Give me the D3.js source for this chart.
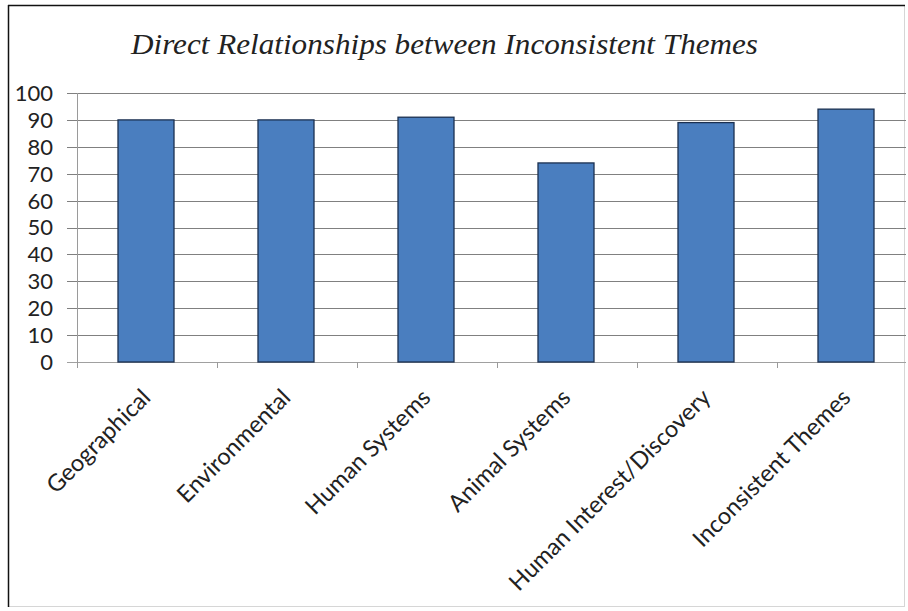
<!DOCTYPE html>
<html>
<head>
<meta charset="utf-8">
<script src="https://cdn.jsdelivr.net/npm/d3@7"></script>
<style>
  html, body { margin: 0; padding: 0; background: #fff; }
  svg { display: block; }
</style>
</head>
<body>
<svg id="chart" width="908" height="611"></svg>
<script>
const title = "Direct Relationships between Inconsistent Themes";
const categories = ["Geographical", "Environmental", "Human Systems", "Animal Systems", "Human Interest/Discovery", "Inconsistent Themes"];
const values = [90, 90, 91, 74, 89, 94];
const yTicks = [0, 10, 20, 30, 40, 50, 60, 70, 80, 90, 100];

const svg = d3.select("#chart");

// outer frame
svg.append("rect").attr("x", 8.5).attr("y", 5.5).attr("width", 896).attr("height", 601)
  .attr("fill", "#fff").attr("stroke", "#d6d6d6").attr("stroke-width", 1);
svg.append("line").attr("x1", 8.5).attr("x2", 8.5).attr("y1", 5).attr("y2", 607)
  .attr("stroke", "#111").attr("stroke-width", 1.5);
svg.append("line").attr("x1", 8).attr("x2", 905).attr("y1", 5.5).attr("y2", 5.5)
  .attr("stroke", "#111").attr("stroke-width", 1.5);

const plot = { left: 77, right: 917, top: 93, bottom: 362 };

const x = d3.scaleBand().domain(categories).range([plot.left, plot.right]).paddingInner(0).paddingOuter(0);
const y = d3.scaleLinear().domain([0, 100]).range([plot.bottom, plot.top]);

// gridlines
svg.append("g").selectAll("line").data(yTicks).join("line")
  .attr("x1", plot.left - 10).attr("x2", 906)
  .attr("y1", d => Math.round(y(d)) + 0.5).attr("y2", d => Math.round(y(d)) + 0.5)
  .attr("stroke", d => d === 0 ? "#a0a0a0" : "#808080").attr("stroke-width", 1);

// y axis line
svg.append("line").attr("x1", plot.left + 0.5).attr("x2", plot.left + 0.5)
  .attr("y1", plot.top).attr("y2", plot.bottom + 5)
  .attr("stroke", "#9a9a9a").attr("stroke-width", 1);

// y tick labels
svg.append("g").selectAll("text").data(yTicks).join("text")
  .attr("x", 53).attr("y", d => y(d))
  .attr("dy", "0.36em")
  .attr("text-anchor", "end")
  .attr("font-family", "Lato, 'Open Sans', sans-serif")
  .attr("font-size", 22)
  .attr("fill", "#222")
  .text(d => d);

// x category tick marks (band boundaries)
const bounds = categories.map(c => x(c)).concat([plot.right]);
svg.append("g").selectAll("line").data(bounds).join("line")
  .attr("x1", d => d + 0.5).attr("x2", d => d + 0.5)
  .attr("y1", plot.bottom).attr("y2", plot.bottom + 6)
  .attr("stroke", "#9a9a9a").attr("stroke-width", 1);

// bars
const bw = x.bandwidth() * 0.4;
svg.append("g").selectAll("rect").data(categories).join("rect")
  .attr("x", (c) => x(c) + x.bandwidth() / 2 - bw / 2 - 1)
  .attr("y", (c, i) => y(values[i]))
  .attr("width", bw)
  .attr("height", (c, i) => y(0) - y(values[i]))
  .attr("fill", "#4a7ebf")
  .attr("stroke", "#1b3050")
  .attr("stroke-width", 1.3);

// x labels
svg.append("g").selectAll("text").data(categories).join("text")
  .attr("transform", c => `translate(${x(c) + x.bandwidth() / 2 + 5},${plot.bottom + 37}) rotate(-45)`)
  .attr("text-anchor", "end")
  .attr("font-family", "Lato, 'Open Sans', sans-serif")
  .attr("font-size", 23.5)
  .attr("fill", "#222")
  .text(c => c);

// title
svg.append("text")
  .attr("x", 131).attr("y", 54)
  .attr("font-family", "'Liberation Serif', 'DejaVu Serif', serif")
  .attr("font-style", "italic")
  .attr("font-size", 30)
  .attr("fill", "#222")
  .attr("textLength", 627)
  .attr("lengthAdjust", "spacingAndGlyphs")
  .text(title);
</script>
</body>
</html>
